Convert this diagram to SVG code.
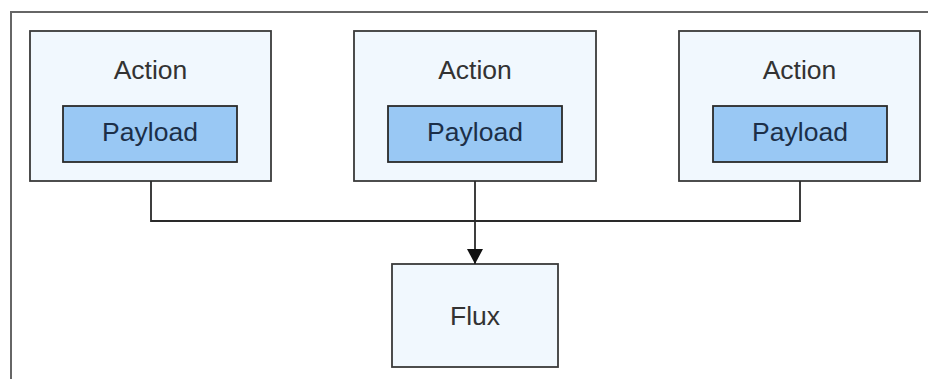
<svg xmlns="http://www.w3.org/2000/svg" width="928" height="379" viewBox="0 0 928 379">
<style>
.frame{fill:none;stroke:#666;stroke-width:2}
.action{fill:#f1f8fe;stroke:#3a3a3a;stroke-width:1.8}
.payload{fill:#99c8f4;stroke:#2a2a2a;stroke-width:1.8}
.flux{fill:#f1f8fe;stroke:#3a3a3a;stroke-width:1.8}
.lbl{font-family:"Liberation Sans",Arial,sans-serif;font-size:26.5px;text-anchor:middle;fill:#333}
.plbl{font-family:"Liberation Sans",Arial,sans-serif;font-size:26.5px;text-anchor:middle;fill:#1c2f48}
.conn{fill:none;stroke:#2a2a2a;stroke-width:1.8}
</style>
<defs>
<marker id="arrow" markerWidth="16" markerHeight="16" refX="15" refY="8" orient="auto" markerUnits="userSpaceOnUse">
<path d="M0,0 L15,8 L0,16 Z" fill="#111"/>
</marker>
</defs>
<rect width="928" height="379" fill="#ffffff"/>
<path class="frame" d="M11,380 L11,12 L929,12"/>
<g id="action1">
<rect class="action" x="30" y="31" width="241" height="150"/>
<text class="lbl" x="150.5" y="79">Action</text>
<g id="payload1">
<rect class="payload" x="63" y="106" width="174" height="56"/>
<text class="plbl" x="150" y="141">Payload</text>
</g>
</g>
<g id="action2">
<rect class="action" x="354" y="31" width="242" height="150"/>
<text class="lbl" x="475" y="79">Action</text>
<g id="payload2">
<rect class="payload" x="388" y="106" width="174" height="56"/>
<text class="plbl" x="475" y="141">Payload</text>
</g>
</g>
<g id="action3">
<rect class="action" x="679" y="31" width="241" height="150"/>
<text class="lbl" x="799.5" y="79">Action</text>
<g id="payload3">
<rect class="payload" x="713" y="106" width="174" height="56"/>
<text class="plbl" x="800" y="141">Payload</text>
</g>
</g>
<g id="flux">
<rect class="flux" x="392" y="264" width="166" height="103"/>
<text class="lbl" x="475" y="325">Flux</text>
</g>
<g id="connectors">
<path class="conn" d="M151,181 L151,221 L800,221 L800,181"/>
<path class="conn" d="M475,181 L475,264" marker-end="url(#arrow)"/>
</g>
</svg>
